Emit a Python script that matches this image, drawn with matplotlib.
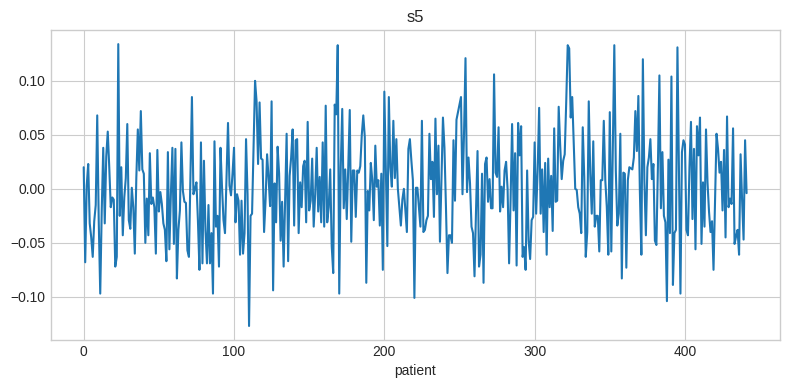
import numpy as np
import matplotlib
matplotlib.use("Agg")
import matplotlib.pyplot as plt

title = "s5"
x_label = "patient"

s5 = [
    0.020, -0.068, 0.003, 0.023, -0.032, -0.045, -0.063, -0.030, -0.015, 0.068,
    -0.030, -0.097, -0.020, 0.038, -0.032, 0.030, 0.053, 0.020, -0.017, -0.008,
    -0.010, -0.072, -0.063, 0.134, -0.025, 0.020, -0.043, -0.008, 0.010, 0.060,
    -0.029, -0.037, 0.001, -0.017, -0.060, 0.010, 0.055,
    0.017, 0.072, 0.018, 0.014, -0.050, -0.009, -0.043, 0.033, -0.014, -0.008,
    -0.017, -0.060, 0.036, -0.021, -0.003, -0.014, -0.032, -0.038, -0.067, 0.034,
    -0.056, -0.005, 0.038, -0.051, 0.037, -0.083, -0.038, -0.020, 0.043, -0.002,
    -0.012, -0.013, -0.057, -0.063, 0.010, 0.085, -0.005,
    0.000, 0.006, -0.030, -0.075, 0.043, -0.069, 0.026, -0.038, -0.069, -0.015,
    -0.069, -0.041, -0.097, 0.044, -0.035, -0.025, -0.072, 0.038, 0.002, -0.029,
    -0.041, 0.010, 0.061, 0.003, -0.006, 0.014, 0.038, -0.031, -0.005, -0.011,
    -0.061, -0.011, -0.060, -0.041, 0.046, -0.005,
    -0.127, -0.025, -0.023, 0.040, 0.100, 0.081, 0.023, 0.080, 0.028, 0.027,
    -0.040, -0.010, 0.032, 0.010, -0.016, 0.081, -0.094, 0.005, -0.031, 0.039,
    0.014, -0.048, -0.012, -0.072, -0.010, 0.051, -0.067, 0.012, 0.029, 0.055,
    -0.034, 0.045, 0.046, -0.041, 0.006, -0.017, 0.021,
    0.026, -0.031, 0.062, -0.020, -0.011, 0.028, -0.035, -0.005, 0.038, -0.021,
    0.011, -0.031, 0.043, -0.035, 0.077, -0.031, -0.017, 0.018, -0.053, -0.078,
    0.078, 0.069, 0.133, -0.097, 0.020, 0.074, -0.018, 0.018, -0.028, 0.020,
    0.073, -0.049, 0.017, 0.017, -0.026, 0.017,
    0.015, 0.021, 0.050, 0.068, 0.048, -0.087, -0.002, -0.020, 0.024, 0.008,
    -0.029, 0.040, 0.002, 0.008, -0.034, 0.014, -0.075, 0.090, 0.020, -0.053,
    0.085, 0.020, 0.002, 0.063, 0.010, 0.046, 0.000, -0.017, -0.034, -0.010,
    0.000, -0.020, -0.040, 0.037, 0.046, 0.026, 0.008,
    -0.101, 0.001, 0.001, -0.017, -0.035, 0.063, -0.040, -0.038, -0.029, -0.025,
    0.051, 0.009, 0.025, -0.026, 0.065, -0.005, 0.040, -0.049, 0.008, 0.066,
    0.038, -0.017, -0.078, -0.043, -0.043, -0.050, 0.045, -0.011, 0.064, 0.071,
    0.078, 0.085, -0.005, 0.050, 0.121, -0.003, 0.029,
    0.005, -0.035, -0.041, -0.081, -0.020, 0.035, -0.072, -0.061, 0.014, -0.087,
    0.023, 0.029, -0.012, 0.009, -0.018, -0.018, 0.106, 0.015, 0.011, 0.057,
    -0.021, 0.002, -0.017, 0.017, 0.025, 0.000, -0.069, -0.010, 0.060, -0.020,
    0.033, -0.071, 0.061, 0.031, 0.058, -0.063,
    -0.054, -0.075, 0.017, -0.048, -0.065, -0.029, -0.026, 0.043, -0.023, 0.017,
    0.075, -0.023, 0.018, -0.040, 0.024, -0.061, 0.028, -0.017, 0.012, -0.039,
    0.056, -0.012, -0.011, 0.076, 0.040, 0.009, 0.026, 0.032, 0.080, 0.133,
    0.130, 0.066, 0.085, 0.041, 0.000, -0.001, -0.017,
    -0.023, -0.041, 0.057, 0.011, -0.063, -0.040, 0.081, 0.014, -0.023, 0.044,
    -0.035, -0.025, -0.025, -0.058, 0.008, 0.008, 0.063, 0.008, -0.017, -0.061,
    0.071, -0.058, 0.040, 0.133, 0.017, -0.034, -0.023, 0.051, -0.083, 0.015,
    0.014, -0.073, 0.008, 0.020, 0.019, 0.018,
    0.029, 0.072, 0.035, 0.086, -0.002, -0.061, 0.120, 0.008, -0.043, 0.020,
    0.029, 0.046, 0.009, 0.023, -0.048, -0.052, 0.020, 0.105, -0.018, 0.034,
    -0.025, -0.031, -0.104, 0.027, -0.041, 0.104, -0.089, -0.041, -0.038, 0.131,
    0.015, -0.097, 0.034, 0.045, 0.041,
    -0.038, -0.043, 0.020, 0.062, -0.028, 0.037, -0.056, 0.058, 0.031, 0.066,
    -0.051, 0.006, -0.035, 0.055, 0.006, -0.021, -0.040, -0.030, -0.075, -0.010,
    0.051, 0.037, 0.015, 0.025, -0.020, 0.036, -0.045, 0.067, -0.017, -0.009,
    -0.014, 0.056, -0.051, -0.044, -0.038, -0.061, 0.032, -0.010, -0.047, 0.045,
    -0.004,
]
patient = np.arange(len(s5))

plt.style.use("seaborn-v0_8-whitegrid")
fig, ax = plt.subplots(figsize=(7.9, 3.9), dpi=100)
ax.plot(patient, s5, color="#1f77b4", linewidth=1.5)
ax.set_title(title)
ax.set_xlabel(x_label)
fig.subplots_adjust(left=0.064, right=0.987, top=0.923, bottom=0.128)
fig.savefig("out.png", dpi=100)
